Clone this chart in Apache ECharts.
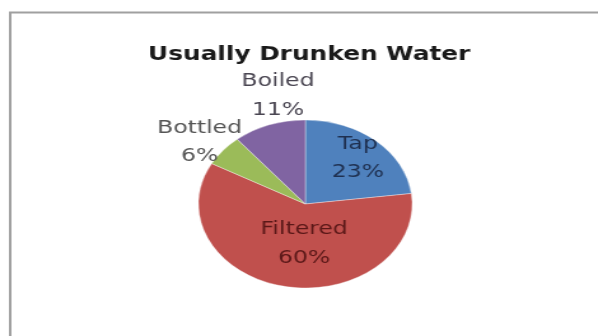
<!DOCTYPE html>
<html>
<head>
<meta charset="utf-8">
<script src="https://cdn.jsdelivr.net/npm/echarts@6/dist/echarts.min.js"></script>
<style>
html,body{margin:0;padding:0;background:#fff;overflow:hidden;}
#wrap{width:598px;height:336px;overflow:hidden;position:relative;}
#chart{width:470px;height:336px;transform:scaleX(1.2723);transform-origin:0 0;}
</style>
</head>
<body>
<div id="wrap"><div id="chart"></div></div>
<script>
const titleText = 'Usually Drunken Water';
const categories = ['Tap', 'Filtered', 'Bottled', 'Boiled'];
const values = [23, 60, 6, 11];

const colors = ['#4F81BD', '#C0504D', '#9BBB59', '#8064A2'];
const labelColors = ['#1f3050', '#5a1818', '#555555', '#4a4652'];
const labelShift = [[11.5, -12], [7.5, -4.5], [-48.5, -33], [-6.3, -66]];

const chart = echarts.init(document.getElementById('chart'));
chart.setOption({
  animation: false,
  backgroundColor: '#fff',
  color: colors,
  title: {
    text: titleText,
    left: 238, top: 40, textAlign: 'center',
    textStyle: {fontFamily: 'DejaVu Sans', fontWeight: 'bold', fontSize: 19.5, color: '#1a1a1a'}
  },
  graphic: [{
    type: 'rect', shape: {x: 8, y: 12.5, width: 520, height: 400},
    style: {fill: 'none', stroke: '#a0a0a0', lineWidth: 2}, silent: true
  }],
  series: [{
    type: 'pie',
    center: [240, 204],
    radius: 84,
    startAngle: 90,
    clockwise: true,
    itemStyle: {borderColor: 'rgba(255,255,255,0.6)', borderWidth: 0.6},
    label: {
      show: true, position: 'inside',
      formatter: '{b}\n{d}%',
      fontFamily: 'DejaVu Sans', fontSize: 18.5, lineHeight: 28.5
    },
    labelLine: {show: false},
    labelLayout: function (p) {
      const s = labelShift[p.dataIndex];
      return {dx: s[0], dy: s[1]};
    },
    data: categories.map((c, i) => ({
      name: c, value: values[i],
      label: {color: labelColors[i]}
    }))
  }]
});
</script>
</body>
</html>
